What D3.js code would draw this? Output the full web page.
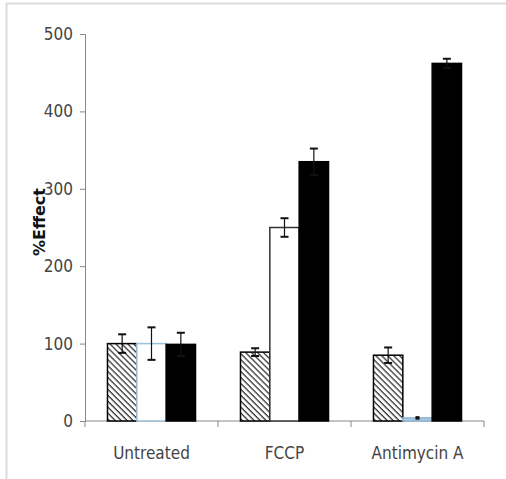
<!DOCTYPE html>
<html>
<head>
<meta charset="utf-8">
<script src="https://cdn.jsdelivr.net/npm/d3@7"></script>
<style>
  body { margin: 0; background: #fff; }
  text { font-family: "DejaVu Sans", sans-serif; font-stretch: condensed; }
</style>
</head>
<body>
<div id="chart"></div>
<script>
// data
var categories = ["Untreated", "FCCP", "Antimycin A"]
var seriesNames = ["hatched", "white", "black"]
var hatchedVals = [100, 89, 85]
var hatchedErr = [12, 5, 10]
var whiteVals = [100, 250, 4]
var whiteErr = [21, 12, 1]
var blackVals = [99, 335, 462]
var blackErr = [15, 17, 6]
var yTicks = [0, 100, 200, 300, 400, 500]

// outline colour of the white bars (light blue in the scan for two of them)
var whiteStroke = ["#9cc0da", "#333", "#8fb4d0"]

var W = 506, H = 479
var margin = {top: 34, right: 22, bottom: 58, left: 85}
var width = W - margin.left - margin.right
var height = 421 - margin.top

var svg = d3.select("#chart").append("svg").attr("width", W).attr("height", H)

// faint frame of the scanned figure
svg.append("path").attr("d", "M6.5," + H + " L6.5,3.5 L" + W + ",3.5")
  .style("fill", "none").style("stroke", "#dcdcdc").style("stroke-width", 2)

var defs = svg.append("defs")
var pat = defs.append("pattern")
  .attr("id", "hatch")
  .attr("patternUnits", "userSpaceOnUse")
  .attr("width", 4.2).attr("height", 4.2)
  .attr("patternTransform", "rotate(-45)")
pat.append("rect").attr("width", 4.2).attr("height", 4.2).style("fill", "#fff")
pat.append("line").attr("x1", 1).attr("y1", 0).attr("x2", 1).attr("y2", 4.2)
  .style("stroke", "#222").style("stroke-width", 1.2)

var g = svg.append("g").attr("transform", "translate(" + margin.left + "," + margin.top + ")")

var x0 = d3.scaleBand().domain(categories).range([0, width]).paddingInner(0.338).paddingOuter(0.169)
var x1 = d3.scaleBand().domain(seriesNames).range([0, x0.bandwidth()])
var y = d3.scaleLinear().domain([0, 500]).range([height, 0])

var rows = categories.map(function(c, i){
  return {cat: c, i: i, bars: [
    {s: "hatched", v: hatchedVals[i], e: hatchedErr[i]},
    {s: "white", v: whiteVals[i], e: whiteErr[i]},
    {s: "black", v: blackVals[i], e: blackErr[i]}
  ]}
})

// y axis
var yAxis = d3.axisLeft(y).tickValues(yTicks).tickSize(5).tickPadding(7)
var ya = g.append("g").call(yAxis)
ya.select(".domain").style("stroke", "#888")
ya.selectAll(".tick line").style("stroke", "#888")
ya.selectAll("text")
  .style("font-family", "'DejaVu Sans', sans-serif")
  .style("font-stretch", "condensed")
  .style("font-size", "17px").style("fill", "#444")

// x axis
var step = x0.step()
var xa = g.append("g").attr("transform", "translate(0," + height + ")")
xa.append("line").attr("x1", 0).attr("x2", width).style("stroke", "#888").style("stroke-width", 1.2)
xa.selectAll(".xtick").data(d3.range(categories.length + 1)).enter().append("line")
  .attr("class", "xtick")
  .attr("x1", function(d){ return d * step }).attr("x2", function(d){ return d * step })
  .attr("y1", 0).attr("y2", 6)
  .style("stroke", "#888")
xa.selectAll(".xlabel").data(categories).enter().append("text")
  .attr("class", "xlabel")
  .attr("x", function(d){ return x0(d) + x0.bandwidth() / 2 })
  .attr("y", 38)
  .attr("text-anchor", "middle")
  .style("font-size", "17px").style("fill", "#444")
  .text(function(d){ return d })

// y title
g.append("text")
  .attr("transform", "translate(" + (-40) + "," + (y(257)) + ") rotate(-90)")
  .attr("text-anchor", "middle")
  .style("font-family", "'DejaVu Sans', sans-serif")
  .style("font-stretch", "normal")
  .style("font-weight", "bold")
  .style("font-size", "16px")
  .style("fill", "#111")
  .text("%Effect")

var groups = g.selectAll(".grp").data(rows).enter().append("g")
  .attr("class", "grp")
  .attr("transform", function(d){ return "translate(" + x0(d.cat) + ",0)" })

groups.selectAll(".bar").data(function(d){
    return d.bars.map(function(b){ return Object.assign({i: d.i}, b) })
  }).enter().append("rect")
  .attr("class", "bar")
  .attr("x", function(d){ return x1(d.s) })
  .attr("width", x1.bandwidth())
  .attr("y", function(d){ return y(d.v) })
  .attr("height", function(d){ return height - y(d.v) })
  .style("fill", function(d){
    if(d.s == "hatched") return "url(#hatch)"
    if(d.s == "black") return "#000"
    return d.v < 10 ? "#a9c9e2" : "#fff"
  })
  .style("stroke", function(d){
    if(d.s == "white") return whiteStroke[d.i]
    return "#000"
  })
  .style("stroke-width", 1.5)

// error bars
var err = groups.selectAll(".err").data(function(d){
    return d.bars.map(function(b){ return Object.assign({i: d.i}, b) })
  }).enter().append("g").attr("class", "err")
  .style("stroke", "#111").style("stroke-width", 1.2)
var cap = function(d){ return d.e < 3 ? 2 : 4 }
err.append("line")
  .attr("x1", function(d){ return x1(d.s) + x1.bandwidth() / 2 })
  .attr("x2", function(d){ return x1(d.s) + x1.bandwidth() / 2 })
  .attr("y1", function(d){ return y(d.v + d.e) })
  .attr("y2", function(d){ return y(d.v - d.e) })
err.append("line")
  .attr("x1", function(d){ return x1(d.s) + x1.bandwidth() / 2 - cap(d) })
  .attr("x2", function(d){ return x1(d.s) + x1.bandwidth() / 2 + cap(d) })
  .attr("y1", function(d){ return y(d.v + d.e) })
  .attr("y2", function(d){ return y(d.v + d.e) })
  .style("stroke-width", 2)
err.append("line")
  .attr("x1", function(d){ return x1(d.s) + x1.bandwidth() / 2 - cap(d) })
  .attr("x2", function(d){ return x1(d.s) + x1.bandwidth() / 2 + cap(d) })
  .attr("y1", function(d){ return y(d.v - d.e) })
  .attr("y2", function(d){ return y(d.v - d.e) })
  .style("stroke-width", 2)
</script>
</body>
</html>
